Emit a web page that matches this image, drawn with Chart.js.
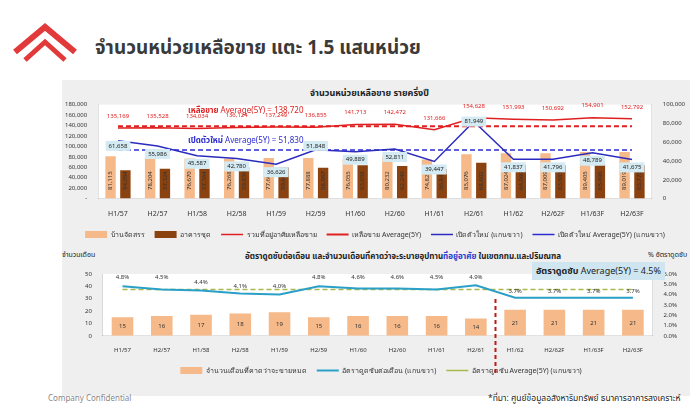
<!DOCTYPE html>
<html><head><meta charset="utf-8">
<script src="https://cdn.jsdelivr.net/npm/chart.js@4.4.0/dist/chart.umd.min.js"></script>
<style>
body{margin:0;width:700px;height:411px;background:#fff;font-family:"Noto Sans","Noto Sans Thai",sans-serif;position:relative;overflow:hidden}
#hdr{position:absolute;left:95px;top:34px;font-size:19px;font-weight:bold;color:#3a3a3a}
#panel{position:absolute;left:62px;top:80px;width:628px;height:316px;background:#efefef}
#c1w{position:absolute;left:62px;top:98px;width:628px;height:150px}
#c2w{position:absolute;left:62px;top:256px;width:628px;height:128px}
.t{position:absolute;font-size:8px;color:#222;white-space:nowrap}
</style></head><body>
<svg style="position:absolute;left:10px;top:22px" width="70" height="50" viewBox="0 0 70 50">
<path d="M5 30 L35 5 L65 30" stroke="#e23a3a" stroke-width="6" fill="none"/>
<path d="M15 38 L35 20 L55 38" stroke="#e23a3a" stroke-width="5" fill="none"/>
</svg>
<div id="hdr">จำนวนหน่วยเหลือขาย แตะ 1.5 แสนหน่วย</div>
<div id="panel"></div>
<div class="t" style="left:310px;top:86px;font-weight:bold;font-size:9px">จำนวนหน่วยเหลือขาย รายครึ่งปี</div>
<div class="t" style="left:62px;top:250px;font-size:7px">จำนวนเดือน</div>
<div class="t" style="left:245px;top:250px;font-size:8px;font-weight:bold">อัตราดูดซับต่อเดือน และจำนวนเดือนที่คาดว่าจะระบายอุปทาน<span style="color:#2b3bd0">ที่อยู่อาศัย</span> ในเขตกทม.และปริมณฑล</div>
<div class="t" style="left:648px;top:250px;font-size:7px">% อัตราดูดซับ</div>
<div class="t" style="left:48px;top:392px;font-size:8px;color:#888">Company Confidential</div>
<div class="t" style="left:488px;top:392px;font-size:8.5px">*ที่มา: ศูนย์ข้อมูลอสังหาริมทรัพย์ ธนาคารอาคารสงเคราะห์</div>
<div id="c1w"><canvas id="c1"></canvas></div>
<div id="c2w"><canvas id="c2"></canvas></div>
<div class="t" style="left:188px;top:104px;color:#e02020;font-weight:bold;font-size:8px">เหลือขาย <span style="font-weight:normal">Average(5Y) = 138,720</span></div>
<div class="t" style="left:188px;top:134px;color:#2b2bd0;font-weight:bold;font-size:8px">เปิดตัวใหม่ <span style="font-weight:normal">Average(5Y) =  51,830</span></div>
<div class="t" style="left:532px;top:262px;background:#cfe6f0;padding:2px 4px;font-size:9px;font-weight:bold;color:#222">อัตราดูดซับ <span style="font-weight:normal">Average(5Y) =  4.5%</span></div>
<script>
const categories=["H1/57","H2/57","H1/58","H2/58","H1/59","H2/59","H1/60","H2/60","H1/61","H2/61","H1/62","H2/62F","H1/63F","H2/63F"];
const houses=[81115,78204,76670,76268,77607,77888,76055,80232,74823,85076,87024,87009,89405,89019];
const condos=[54054,57324,57364,59856,59642,58967,63658,62240,56843,68602,64969,63683,65496,63773];
const totals=[135169,135528,134034,136124,137249,136855,141713,142472,131666,154628,151993,150692,154901,152792];
const newLaunch=[61658,55986,45587,42780,36626,51848,49889,52811,39447,81949,41837,41796,48789,41675];
const totalAvg=138720, launchAvg=51830;
const months=[15,16,17,18,19,15,16,16,16,14,21,21,21,21];
const absorb=[4.8,4.5,4.4,4.1,4.0,4.8,4.6,4.6,4.5,4.9,3.7,3.7,3.7,3.7];
const absorbAvg=4.5;
const leftTicks1=[0,20000,40000,60000,80000,100000,120000,140000,160000,180000];

const fmt=v=>v.toLocaleString('en-US');
const FONT='"Noto Sans",sans-serif';
Chart.defaults.font.family=FONT;
Chart.defaults.font.size=7;
Chart.defaults.color='#333';

const whiteBg={id:'wb',beforeDraw(c){const a=c.chartArea,x=c.ctx;x.save();x.fillStyle='#fff';x.fillRect(a.left,a.top,a.right-a.left,a.bottom-a.top);x.restore();}};
const legendOpts={position:'bottom',labels:{usePointStyle:true,pointStyleWidth:22,boxHeight:7,font:{size:7},padding:10,sort:(a,b)=>a.datasetIndex-b.datasetIndex}};

const labels1={id:'l1',afterDatasetsDraw(c){
 const x=c.ctx;x.save();
 const m0=c.getDatasetMeta(0),m1=c.getDatasetMeta(1),m2=c.getDatasetMeta(2),m4=c.getDatasetMeta(4);
 x.font='6px '+FONT;x.textAlign='center';x.textBaseline='middle';
 categories.forEach((_,i)=>{
  [[m0,houses],[m1,condos]].forEach(([m,d])=>{const b=m.data[i];x.save();x.translate(b.x,b.base-18);x.rotate(-Math.PI/2);x.fillStyle='#333';x.fillText(fmt(d[i]),0,0);x.restore();});
  const p=m2.data[i];x.fillStyle='#e02020';x.fillText(fmt(totals[i]),p.x,p.y-12);
  const q=m4.data[i];let y=q.y+ (i==0||i==5||i==9?0:8);
  if(i==0||i==5)y=c.scales.y1.getPixelForValue(launchAvg)-4;
  const t=fmt(newLaunch[i]);const w=x.measureText(t).width+6;
  x.fillStyle='#d5ebf3';x.fillRect(q.x-w/2,y-5,w,10);x.fillStyle='#222';x.fillText(t,q.x,y);
 });
 x.restore();}};

new Chart(document.getElementById('c1'),{
 data:{labels:categories,datasets:[
  {type:'bar',label:'บ้านจัดสรร',data:houses,backgroundColor:'#f5b98a',pointStyle:'rect',yAxisID:'y',order:5,barPercentage:0.7,categoryPercentage:0.75},
  {type:'bar',label:'อาคารชุด',data:condos,backgroundColor:'#8a4210',pointStyle:'rect',yAxisID:'y',order:5,barPercentage:0.7,categoryPercentage:0.75},
  {type:'line',label:'รวมที่อยู่อาศัยเหลือขาย',data:totals,borderColor:'#e02020',borderWidth:1.5,pointRadius:0,pointStyle:'line',yAxisID:'y',order:1},
  {type:'line',label:'เหลือขาย Average(5Y)',data:categories.map(()=>totalAvg),borderColor:'#e02020',borderDash:[5,3],borderWidth:2,pointRadius:0,pointStyle:'line',yAxisID:'y',order:2},
  {type:'line',label:'เปิดตัวใหม่ (แกนขวา)',data:newLaunch,borderColor:'#2b2bc0',borderWidth:1.5,pointRadius:0,pointStyle:'line',yAxisID:'y1',order:1},
  {type:'line',label:'เปิดตัวใหม่ Average(5Y) (แกนขวา)',data:categories.map(()=>launchAvg),borderColor:'#2b2bd0',borderDash:[5,3],borderWidth:1.5,pointRadius:0,pointStyle:'line',yAxisID:'y1',order:2}
 ]},
 options:{responsive:true,maintainAspectRatio:false,animation:false,
  layout:{padding:{left:0,right:2,top:4}},
  plugins:{legend:legendOpts,tooltip:{enabled:false}},
  scales:{
   x:{grid:{display:false},ticks:{font:{size:7}}},
   y:{min:0,max:180000,afterBuildTicks:a=>{a.ticks=leftTicks1.map(v=>({value:v}))},grid:{display:false},ticks:{font:{size:6},callback:v=>v==0?'-':fmt(v)}},
   y1:{position:'right',min:0,max:100000,ticks:{stepSize:20000,font:{size:6},callback:v=>fmt(v)},grid:{display:false}}
  }},
 plugins:[whiteBg,labels1]
});

const labels2={id:'l2',afterDatasetsDraw(c){
 const x=c.ctx;x.save();x.font='6px '+FONT;x.textAlign='center';x.textBaseline='middle';
 const m0=c.getDatasetMeta(0),m1=c.getDatasetMeta(1);
 categories.forEach((_,i)=>{const b=m0.data[i];x.fillStyle='#333';x.fillText(months[i],b.x,(b.y+b.base)/2);
  const p=m1.data[i];x.fillText(absorb[i].toFixed(1)+'%',p.x,i>=10?p.y-6:c.chartArea.top+ (absorb[i]>=4.5?3:(absorb[i]>=4.3?8:12)));});
 const a=(m0.data[9].x+m0.data[10].x)/2;x.strokeStyle='#c01818';x.lineWidth=2;x.setLineDash([4,3]);
 x.beginPath();x.moveTo(a,c.chartArea.top+25);x.lineTo(a,c.chartArea.bottom+40);x.stroke();
 x.restore();}};

new Chart(document.getElementById('c2'),{
 data:{labels:categories,datasets:[
  {type:'bar',label:'จำนวนเดือนที่คาดว่าจะขายหมด',data:months,backgroundColor:'#f5b98a',pointStyle:'rect',yAxisID:'y',order:5,barPercentage:0.55,categoryPercentage:1},
  {type:'line',label:'อัตราดูดซับต่อเดือน (แกนขวา)',data:absorb,borderColor:'#2aa0c8',borderWidth:2,pointRadius:0,pointStyle:'line',yAxisID:'y1',order:1},
  {type:'line',label:'อัตราดูดซับ Average(5Y) (แกนขวา)',data:categories.map(()=>absorbAvg),borderColor:'#a8b84a',borderDash:[5,3],borderWidth:1.5,pointRadius:0,pointStyle:'line',yAxisID:'y1',order:2}
 ]},
 options:{responsive:true,maintainAspectRatio:false,animation:false,
  layout:{padding:{left:20,right:10,top:18}},
  plugins:{legend:legendOpts,tooltip:{enabled:false}},
  scales:{
   x:{grid:{display:false},ticks:{font:{size:6}}},
   y:{min:0,max:50,ticks:{stepSize:10,font:{size:6}},grid:{display:false}},
   y1:{position:'right',min:0,max:6,ticks:{stepSize:1,font:{size:6},callback:v=>v.toFixed(1)+'%'},grid:{display:false}}
  }},
 plugins:[whiteBg,labels2]
});
</script></body></html>
